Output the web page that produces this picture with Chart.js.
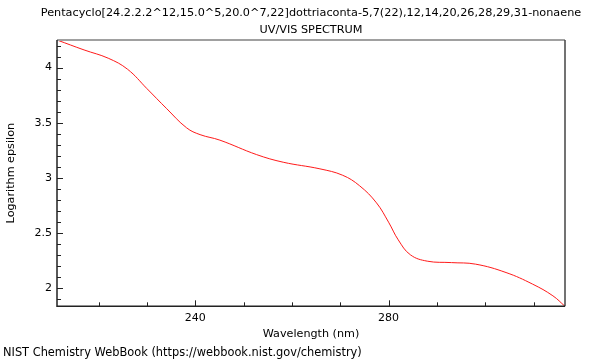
<!DOCTYPE html>
<html>
<head>
<meta charset="utf-8">
<script src="https://cdn.jsdelivr.net/npm/chart.js@4"></script>
<style>
  html, body { margin: 0; padding: 0; background: #fff; }
  #wrap { width: 600px; height: 360px; position: relative; }
</style>
</head>
<body>
<div id="wrap"><canvas id="uvChart" width="600" height="360"></canvas></div>
<script>
// values
const wavelengths = [211.4, 217.0, 222.0, 226.0, 230.0, 234.1, 238.2, 241.0, 245.1, 252.7, 258.2, 265.8,
  270.5, 274.0, 277.5, 280.0, 282.0, 284.5, 288.0, 293.0, 298.0, 304.3, 309.8, 314.0, 316.5];
const logEps = [4.25, 4.16, 4.085, 3.985, 3.81, 3.628, 3.455, 3.393, 3.343, 3.212, 3.143, 3.083,
  3.025, 2.93, 2.775, 2.60, 2.44, 2.305, 2.247, 2.234, 2.22, 2.144, 2.039, 1.933, 1.838];
const xLabels = [240, 280];
const titleLines = ['Pentacyclo[24.2.2.2^12,15.0^5,20.0^7,22]dottriaconta-5,7(22),12,14,20,26,28,29,31-nonaene', 'UV/VIS SPECTRUM'];
const footer = 'NIST Chemistry WebBook (https://webbook.nist.gov/chemistry)';

const FONT = 'DejaVu Sans';
const points = wavelengths.map((w, i) => ({ x: w, y: logEps[i] }));

// title over the plot centre, allowed to run wider than the plot
const headTitle = {
  id: 'headTitle',
  afterDraw(chart) {
    const { ctx, chartArea: a } = chart;
    const cx = (a.left + a.right) / 2;
    ctx.save();
    ctx.fillStyle = '#000';
    ctx.textAlign = 'center';
    ctx.textBaseline = 'middle';
    ctx.font = '11.25px "' + FONT + '"';
    ctx.fillText(titleLines[0], cx, 13);
    ctx.fillText(titleLines[1], cx, 30);
    ctx.restore();
  }
};

// inward ticks + frame, taken from the scales
const frame = {
  id: 'frame',
  afterDraw(chart) {
    const { ctx, chartArea: a, scales: { x, y } } = chart;
    ctx.save();
    ctx.lineWidth = 1;
    ctx.strokeStyle = '#222';
    x.ticks.forEach(t => {
      const px = Math.round(x.getPixelForValue(t.value)) + 0.5;
      const len = t.value % 40 === 0 ? 6 : 4;
      ctx.beginPath(); ctx.moveTo(px, a.bottom); ctx.lineTo(px, a.bottom - len); ctx.stroke();
    });
    y.ticks.forEach(t => {
      const py = Math.round(y.getPixelForValue(t.value)) + 0.5;
      const len = Math.abs(t.value * 2 - Math.round(t.value * 2)) < 1e-6 ? 6 : 4;
      ctx.beginPath(); ctx.moveTo(a.left, py); ctx.lineTo(a.left + len, py); ctx.stroke();
    });
    // top + right
    ctx.strokeStyle = '#a0a0a0'; ctx.lineWidth = 2;
    ctx.beginPath(); ctx.moveTo(a.left, a.top); ctx.lineTo(a.right, a.top); ctx.stroke();
    ctx.strokeStyle = '#444'; ctx.lineWidth = 1.5;
    ctx.beginPath(); ctx.moveTo(a.right, a.top); ctx.lineTo(a.right, a.bottom); ctx.stroke();
    // left + bottom
    ctx.strokeStyle = '#222'; ctx.lineWidth = 1.5;
    ctx.beginPath(); ctx.moveTo(a.left, a.top); ctx.lineTo(a.left, a.bottom); ctx.lineTo(a.right, a.bottom); ctx.stroke();
    ctx.restore();
  }
};

new Chart(document.getElementById('uvChart'), {
  type: 'line',
  data: {
    datasets: [{
      data: points,
      borderColor: '#ff1a1a',
      borderWidth: 1,
      pointRadius: 0,
      tension: 0.4,
      fill: false
    }]
  },
  options: {
    responsive: false,
    animation: false,
    layout: { padding: { left: 3, right: 35, top: 40, bottom: 0 } },
    plugins: {
      legend: { display: false },
      tooltip: { enabled: false },
      title: { display: false },
      subtitle: {
        display: true,
        text: footer,
        position: 'bottom',
        align: 'start',
        color: '#000',
        font: { family: FONT, size: 11.4, weight: 'normal', lineHeight: 1.2 },
        padding: { top: 0, bottom: 0 }
      }
    },
    scales: {
      x: {
        type: 'linear',
        min: 211.4,
        max: 316.5,
        grid: { display: false, drawTicks: false },
        border: { display: false },
        afterBuildTicks(scale) {
          const t = [];
          for (let v = 220; v <= 310; v += 10) t.push({ value: v });
          scale.ticks = t;
        },
        afterFit(scale) { scale.height = 40; },
        ticks: {
          color: '#000',
          font: { family: FONT, size: 11 },
          padding: 5,
          maxRotation: 0,
          autoSkip: false,
          callback: v => xLabels.includes(v) ? String(v) : ''
        },
        title: {
          display: true,
          text: 'Wavelength (nm)',
          color: '#000',
          font: { family: FONT, size: 11.2 },
          padding: { top: 0, bottom: 6 }
        }
      },
      y: {
        min: 1.838,
        max: 4.25,
        grid: { display: false, drawTicks: false },
        border: { display: false },
        afterBuildTicks(scale) {
          const t = [];
          for (let i = 19; i <= 42; i++) t.push({ value: i / 10 });
          scale.ticks = t;
        },
        afterFit(scale) { scale.width = 54; },
        ticks: {
          color: '#000',
          font: { family: FONT, size: 11 },
          padding: 5,
          autoSkip: false,
          callback: v => (Math.abs(v * 2 - Math.round(v * 2)) < 1e-6) ? String(Math.round(v * 10) / 10) : ''
        },
        title: {
          display: true,
          text: 'Logarithm epsilon',
          color: '#000',
          font: { family: FONT, size: 11.2 },
          padding: { top: 1, bottom: 0 }
        }
      }
    }
  },
  plugins: [frame, headTitle]
});
</script>
</body>
</html>
